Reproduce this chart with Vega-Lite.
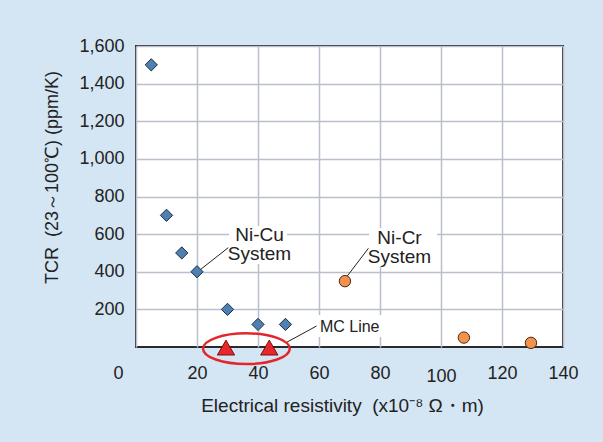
{
  "$schema": "https://vega.github.io/schema/vega-lite/v6.json",
  "width": 427,
  "height": 301,
  "autosize": {"type": "none"},
  "padding": {"left": 136, "top": 46, "right": 40, "bottom": 95},
  "background": "#d4e5f4",
  "config": {
    "font": "Liberation Sans",
    "view": {"fill": "white", "stroke": "#2a2a2a", "strokeWidth": 2},
    "axis": {
      "domain": false,
      "ticks": false,
      "gridColor": "#b9c0cb",
      "gridWidth": 1.5,
      "gridOpacity": 1,
      "labelColor": "#222222",
      "titleColor": "#222222",
      "labelFont": "Liberation Sans",
      "titleFont": "Liberation Sans",
      "labelFontSize": 18,
      "titleFontSize": 18,
      "titleFontWeight": "normal"
    }
  },
  "layer": [
    {
      "data": {"values": [
        {"x1": 30.5, "x2": 49.5, "y1": 441, "y2": 643},
        {"x1": 76.4, "x2": 98.7, "y1": 431, "y2": 633},
        {"x1": 59.3, "x2": 82.6, "y1": 53, "y2": 170}
      ]},
      "mark": {"type": "rect", "fill": "white"},
      "encoding": {
        "x": {"field": "x1", "type": "quantitative",
          "scale": {"domain": [0, 140], "nice": false, "zero": true},
          "axis": {
            "values": [0, 20, 40, 60, 80, 100, 120, 140],
            "labelPadding": {"condition": {"test": "datum.value === 100", "value": 20}, "value": 17},
            "labelOffset": {"condition": {"test": "datum.value === 0", "value": -18}, "value": 0},
            "labelFlush": false,
            "labelOverlap": false,
            "labelBound": false,
            "title": "Electrical resistivity\u00a0\u00a0(x10⁻⁸ Ω・m)",
            "titleFontSize": 19,
            "titleX": 206,
            "titleY": 49
          }
        },
        "x2": {"field": "x2"},
        "y": {"field": "y1", "type": "quantitative",
          "scale": {"domain": [0, 1600], "nice": false},
          "axis": {
            "values": [200, 400, 600, 800, 1000, 1200, 1400, 1600],
            "format": ",d",
            "labelPadding": 12,
            "labelOverlap": false,
            "labelBound": false,
            "title": "TCR\u00a0\u00a0(23～100℃) (ppm/K)",
            "titleX": -75,
            "titleY": 131
          }
        },
        "y2": {"field": "y2"}
      }
    },
    {
      "data": {"values": [
        {"x": 20.66, "y": 405.6, "x2": 30.26, "y2": 528},
        {"x": 69.1, "y": 373.7, "x2": 76.2, "y2": 524.7},
        {"x": 49.4, "y": 25, "x2": 59.2, "y2": 111.6}
      ]},
      "mark": {"type": "rule", "color": "#222222", "strokeWidth": 1},
      "encoding": {
        "x": {"field": "x", "type": "quantitative"},
        "x2": {"field": "x2"},
        "y": {"field": "y", "type": "quantitative"},
        "y2": {"field": "y2"}
      }
    },
    {
      "data": {"values": [
        {"r": 5, "t": 1500},
        {"r": 10, "t": 700},
        {"r": 15, "t": 500},
        {"r": 20, "t": 400},
        {"r": 30, "t": 200},
        {"r": 40, "t": 120},
        {"r": 49, "t": 120}
      ]},
      "mark": {"type": "point", "shape": "diamond", "filled": true, "size": 150, "fill": "#4f80b2", "stroke": "#1c2c44", "strokeWidth": 1, "opacity": 1},
      "encoding": {
        "x": {"field": "r", "type": "quantitative"},
        "y": {"field": "t", "type": "quantitative"}
      }
    },
    {
      "data": {"values": [
        {"r": 68.5, "t": 350},
        {"r": 107.5, "t": 50},
        {"r": 129.5, "t": 22}
      ]},
      "mark": {"type": "point", "shape": "circle", "filled": true, "size": 130, "fill": "#f3914f", "stroke": "#4a2a10", "strokeWidth": 1, "opacity": 1},
      "encoding": {
        "x": {"field": "r", "type": "quantitative"},
        "y": {"field": "t", "type": "quantitative"}
      }
    },
    {
      "data": {"values": [
        {"r": 29.5, "t": -3},
        {"r": 43.7, "t": -3}
      ]},
      "mark": {"type": "point", "shape": "triangle-up", "filled": true, "size": 300, "fill": "#e8262b", "stroke": "#5a0000", "strokeWidth": 0.8, "opacity": 1, "clip": false},
      "encoding": {
        "x": {"field": "r", "type": "quantitative"},
        "y": {"field": "t", "type": "quantitative"}
      }
    },
    {
      "data": {"values": [
        {"r": 36.2, "t": -9}
      ]},
      "mark": {"type": "point", "shape": "M-1,0A1,0.354,0,1,0,1,0A1,0.354,0,1,0,-1,0Z", "filled": false, "size": 7520, "stroke": "#e3262b", "strokeWidth": 2.5, "opacity": 1, "clip": false},
      "encoding": {
        "x": {"field": "r", "type": "quantitative"},
        "y": {"field": "t", "type": "quantitative"}
      }
    },
    {
      "data": {"values": [
        {"x": 40.5, "y": 566, "label": "Ni-Cu\nSystem"},
        {"x": 86.4, "y": 547, "label": "Ni-Cr\nSystem"}
      ]},
      "mark": {"type": "text", "fontSize": 19, "lineBreak": "\n", "lineHeight": 19, "align": "center", "baseline": "alphabetic", "color": "#222222", "font": "Liberation Sans"},
      "encoding": {
        "x": {"field": "x", "type": "quantitative"},
        "y": {"field": "y", "type": "quantitative"},
        "text": {"field": "label"}
      }
    },
    {
      "data": {"values": [
        {"x": 60.3, "y": 81, "label": "MC Line"}
      ]},
      "mark": {"type": "text", "fontSize": 16, "align": "left", "baseline": "alphabetic", "color": "#222222", "font": "Liberation Sans"},
      "encoding": {
        "x": {"field": "x", "type": "quantitative"},
        "y": {"field": "y", "type": "quantitative"},
        "text": {"field": "label"}
      }
    }
  ]
}
